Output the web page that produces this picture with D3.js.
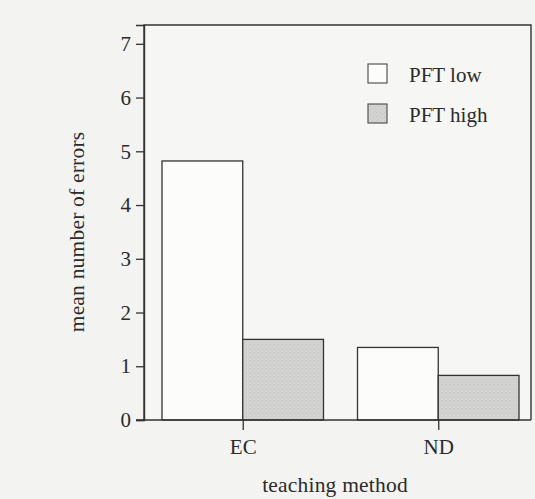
<!DOCTYPE html>
<html>
<head>
<meta charset="utf-8">
<script src="https://cdn.jsdelivr.net/npm/d3@7"></script>
<style>
  html, body { margin: 0; padding: 0; background: #f3f3f1; }
  svg { display: block; }
  text { font-family: "Liberation Serif", "DejaVu Serif", serif; fill: #2b2b2b; }
</style>
</head>
<body>
<svg id="chart" width="535" height="499"></svg>
<script>
const categories = ["EC", "ND"];
const seriesNames = ["PFT low", "PFT high"];
const pftLow = [4.82, 1.35];
const pftHigh = [1.50, 0.83];
const yTicks = [0, 1, 2, 3, 4, 5, 6, 7];

const W = 535, H = 499;
const frame = { left: 144, right: 531, top: 25, bottom: 420 };
const fills = ["#fcfcfb", "#d3d3d1"];
const ink = "#333";

const svg = d3.select("#chart");

// stipple pattern for grey bars
const defs = svg.append("defs");
const pat = defs.append("pattern").attr("id", "stip").attr("patternUnits", "userSpaceOnUse")
  .attr("width", 4).attr("height", 4);
pat.append("rect").attr("width", 4).attr("height", 4).attr("fill", fills[1]);
pat.append("rect").attr("x", 0).attr("y", 0).attr("width", 1).attr("height", 1).attr("fill", "#c2c2c0");
pat.append("rect").attr("x", 2).attr("y", 2).attr("width", 1).attr("height", 1).attr("fill", "#c6c6c4");

const x0 = d3.scaleBand().domain(categories).range([162, 519]).paddingInner(0.174).paddingOuter(0);
const x1 = d3.scaleBand().domain(seriesNames).range([0, x0.bandwidth()]).padding(0);
const y = d3.scaleLinear().domain([0, 7.35]).range([frame.bottom, frame.top]);

// plot area background
svg.append("rect").attr("x", frame.left).attr("y", frame.top)
  .attr("width", frame.right - frame.left).attr("height", frame.bottom - frame.top)
  .attr("fill", "#f6f6f4");

const data = categories.map((c, i) => ({ cat: c, vals: [pftLow[i], pftHigh[i]] }));

const groups = svg.append("g").selectAll("g").data(data).join("g")
  .attr("transform", d => `translate(${x0(d.cat)},0)`);
groups.selectAll("rect").data(d => d.vals.map((v, j) => ({ s: seriesNames[j], v, j })))
  .join("rect")
  .attr("x", d => x1(d.s))
  .attr("y", d => y(d.v))
  .attr("width", x1.bandwidth())
  .attr("height", d => y(0) - y(d.v))
  .attr("fill", d => d.j === 0 ? fills[0] : "url(#stip)")
  .attr("stroke", ink).attr("stroke-width", 1.3);

// frame (top, right)
svg.append("path")
  .attr("d", `M${frame.left},${frame.bottom}V${frame.top}H${frame.right}V${frame.bottom}`)
  .attr("fill", "none").attr("stroke", ink).attr("stroke-width", 1.4);

// y axis
const yAxis = d3.axisLeft(y).tickValues(yTicks).tickSize(8).tickPadding(5).tickFormat(d3.format("d"));
const gy = svg.append("g").attr("transform", `translate(${frame.left},0)`).call(yAxis);
gy.select(".domain").attr("stroke", ink).attr("stroke-width", 1.4);
gy.selectAll(".tick line").attr("stroke", ink).attr("stroke-width", 1.3);
gy.selectAll(".tick text").attr("font-size", 21).attr("font-family", "Liberation Serif").attr("fill", "#2b2b2b");

// x axis
const xCenter = d3.scalePoint().domain(categories).range([x0("EC") + x0.bandwidth() / 2, x0("ND") + x0.bandwidth() / 2]);
const xAxis = d3.axisBottom(xCenter).tickSize(10).tickPadding(9).tickSizeOuter(0);
const gx = svg.append("g").attr("transform", `translate(0,${frame.bottom})`).call(xAxis);
gx.select(".domain").attr("d", `M${frame.left - 8},0H${frame.right}`).attr("stroke", ink).attr("stroke-width", 1.4);
gx.selectAll(".tick line").attr("stroke", ink).attr("stroke-width", 1.3);
gx.selectAll(".tick text").attr("font-size", 21).attr("font-family", "Liberation Serif").attr("fill", "#2b2b2b");

// axis titles
svg.append("text").attr("x", 335).attr("y", 492).attr("text-anchor", "middle")
  .attr("font-size", 21.5).attr("letter-spacing", 0.2).text("teaching method");
svg.append("text").attr("transform", "translate(84,232) rotate(-90)").attr("text-anchor", "middle")
  .attr("font-size", 21.5).attr("letter-spacing", 0.2).text("mean number of errors");

// legend
const leg = svg.append("g").attr("transform", "translate(368,64)");
const li = leg.selectAll("g").data(seriesNames).join("g")
  .attr("transform", (d, i) => `translate(0,${i * 40})`);
li.append("rect").attr("width", 19).attr("height", 19)
  .attr("fill", (d, i) => i === 0 ? fills[0] : "url(#stip)")
  .attr("stroke", "#555").attr("stroke-width", 1.2);
li.append("text").attr("x", 41).attr("y", 18).attr("font-size", 21).text(d => d);
</script>
</body>
</html>
